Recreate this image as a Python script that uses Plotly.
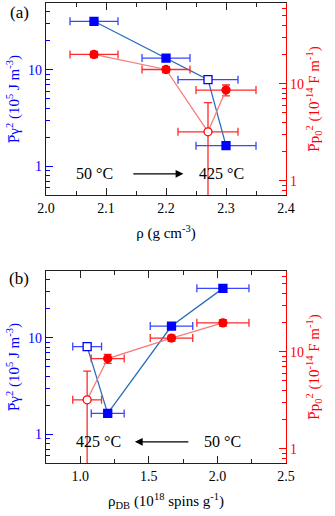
import plotly.graph_objects as go
from plotly.subplots import make_subplots

# panel (a): versus density
rho = [2.08, 2.20, 2.27, 2.30]
rho_err = [0.04, 0.04, 0.05, 0.05]
py_a = [31.7, 13.2, 7.9, 1.64]
py_a_err = [2.5, 1.0, 0.6, 0.12]
pp_a = [20.0, 14.0, 3.2, 8.6]
pp_a_err_up = [1.5, 1.0, 3.2, 1.1]
pp_a_err_down = [1.5, 1.0, 3.0, 1.1]
open_a = 2

# panel (b): versus dangling-bond spin density
rho_db = [2.04, 1.665, 1.20, 1.05]
rho_db_err = [0.19, 0.155, 0.12, 0.105]
py_b = [32.4, 13.2, 1.65, 8.1]
py_b_err = [2.5, 1.0, 0.12, 0.6]
pp_b = [19.8, 13.8, 8.5, 3.2]
pp_b_err_up = [1.5, 1.0, 0.9, 3.1]
pp_b_err_down = [1.5, 1.0, 0.9, 3.0]
open_b = 3

# log minor tick positions
log_minor = [0.5, 0.6, 0.7, 0.8, 0.9, 2, 3, 4, 5, 6, 7, 8, 9,
             20, 30, 40, 50, 60, 70, 80, 90]

FONT = "Liberation Serif"
BLUE, BLUE_LINE, BLUE_ERR = "#0000ff", "#2a6ebb", "#3a46ff"
RED, RED_LINE, RED_ERR = "#ff0000", "#f47c7c", "#ff2a2a"

fig = make_subplots(rows=2, cols=1, specs=[[{"secondary_y": True}], [{"secondary_y": True}]])


def add_series(x, xerr, y, yup, ydown, open_idx, row, secondary, kind):
    if kind == "py":
        sym, col, line_col, err_col = "square", BLUE, BLUE_LINE, BLUE_ERR
    else:
        sym, col, line_col, err_col = "circle", RED, RED_LINE, RED_ERR
    fills = [("white" if i == open_idx else col) for i in range(len(x))]
    fig.add_trace(go.Scatter(
        x=x, y=y, mode="lines+markers",
        line=dict(color=line_col, width=1.3),
        marker=dict(symbol=sym, size=8, color=fills, line=dict(color=col, width=1.3)),
        error_x=dict(type="data", array=xerr, color=err_col, thickness=1.3, width=4),
        error_y=dict(type="data", symmetric=False, array=yup, arrayminus=ydown,
                     color=err_col, thickness=1.3, width=4),
        showlegend=False), row=row, col=1, secondary_y=secondary)


add_series(rho, rho_err, py_a, py_a_err, py_a_err, open_a, 1, False, "py")
add_series(rho, rho_err, pp_a, pp_a_err_up, pp_a_err_down, open_a, 1, True, "pp")
add_series(rho_db, rho_db_err, py_b, py_b_err, py_b_err, open_b, 2, False, "py")
add_series(rho_db, rho_db_err, pp_b, pp_b_err_up, pp_b_err_down, open_b, 2, True, "pp")

tickfont = dict(family=FONT, size=14)
xcommon = dict(showline=True, linecolor="#222222", linewidth=1.3, mirror="ticks",
               ticks="inside", ticklen=7, tickcolor="#222222", tickwidth=1.3,
               showgrid=False, zeroline=False, automargin=False, domain=[0, 1],
               tickfont=dict(tickfont, color="black"))

fig.update_xaxes(xcommon, row=1, col=1, range=[2.0, 2.4], dtick=0.1, tick0=2.0,
                 tickformat=".1f",
                 minor=dict(ticks="inside", ticklen=4, tickcolor="#222222", dtick=0.05,
                            tick0=2.0, showgrid=False),
                 title=dict(text="ρ (g cm<sup>-3</sup>)", font=dict(family=FONT, size=15, color="black"),
                            standoff=12))
fig.update_xaxes(xcommon, row=2, col=1, range=[0.75, 2.5], dtick=0.5, tick0=0.5,
                 tickformat=".1f",
                 minor=dict(ticks="inside", ticklen=4, tickcolor="#222222", dtick=0.25,
                            tick0=0.5, showgrid=False),
                 title=dict(text="ρ<sub>DB</sub> (10<sup>18</sup> spins g<sup>-1</sup>)",
                            font=dict(family=FONT, size=15, color="black"), standoff=12))

left_title = "P\u0305γ<sup>2</sup> (10<sup>5</sup> J m<sup>-3</sup>)"
right_title = "P\u0305p<sub>0</sub><sup>2</sup> (10<sup>-14</sup> F m<sup>-1</sup>)"

for r in (1, 2):
    fig.update_yaxes(type="log", range=[-0.295, 1.69], tickvals=[1, 10], showline=True,
                     linecolor=BLUE, linewidth=1.3, ticks="inside", ticklen=7,
                     tickcolor=BLUE, tickwidth=1.3, showgrid=False, zeroline=False,
                     automargin=False, tickfont=dict(tickfont, color=BLUE),
                     minor=dict(ticks="inside", ticklen=4, tickcolor=BLUE, tickmode="array",
                                tickvals=log_minor, showgrid=False),
                     title=dict(text=left_title, font=dict(family=FONT, size=15, color=BLUE), standoff=4),
                     row=r, col=1, secondary_y=False)
    fig.update_yaxes(type="log", range=[-0.145, 1.83], tickvals=[1, 10], showline=True,
                     linecolor=RED, linewidth=1.3, ticks="inside", ticklen=7,
                     tickcolor=RED, tickwidth=1.3, showgrid=False, zeroline=False,
                     automargin=False, tickfont=dict(tickfont, color=RED),
                     minor=dict(ticks="inside", ticklen=4, tickcolor=RED, tickmode="array",
                                tickvals=log_minor, showgrid=False),
                     title=dict(text=right_title, font=dict(family=FONT, size=15, color=RED), standoff=4),
                     row=r, col=1, secondary_y=True)

fig.update_layout(
    width=335, height=516,
    margin=dict(l=46, r=49, t=3, b=53),
    plot_bgcolor="white", paper_bgcolor="white",
    font=dict(family=FONT, size=14, color="black"),
)
fig.layout.yaxis.domain = [0.5826, 1.0]
fig.layout.yaxis2.domain = [0.5826, 1.0]
fig.layout.yaxis3.domain = [0.0, 0.4174]
fig.layout.yaxis4.domain = [0.0, 0.4174]

txt = dict(family=FONT, size=16, color="black")
ylow = -0.076
fig.add_annotation(x=2.081, y=ylow, xref="x", yref="y", text="50 °C", showarrow=False, font=txt)
fig.add_annotation(x=2.293, y=ylow, xref="x", yref="y", text="425 °C", showarrow=False, font=txt)
fig.add_annotation(x=2.229, y=ylow, ax=2.143, ay=ylow, xref="x", yref="y", axref="x", ayref="y",
                   text="", showarrow=True, arrowhead=2, arrowsize=1.3, arrowwidth=1.2, arrowcolor="black")
fig.add_annotation(x=1.136, y=ylow, xref="x2", yref="y3", text="425 °C", showarrow=False, font=txt)
fig.add_annotation(x=2.034, y=ylow, xref="x2", yref="y3", text="50 °C", showarrow=False, font=txt)
fig.add_annotation(x=1.398, y=ylow, ax=1.799, ay=ylow, xref="x2", yref="y3", axref="x2", ayref="y3",
                   text="", showarrow=True, arrowhead=2, arrowsize=1.3, arrowwidth=1.2, arrowcolor="black")

fig.add_annotation(x=-0.1125, y=0.980, xref="paper", yref="paper", text="(a)", showarrow=False,
                   xanchor="center", yanchor="middle", font=dict(family=FONT, size=17, color="black"))
fig.add_annotation(x=-0.1125, y=0.402, xref="paper", yref="paper", text="(b)", showarrow=False,
                   xanchor="center", yanchor="middle", font=dict(family=FONT, size=17, color="black"))

fig.write_html("out.html", config={"displayModeBar": False},
               post_script="document.body.style.margin='0';")
